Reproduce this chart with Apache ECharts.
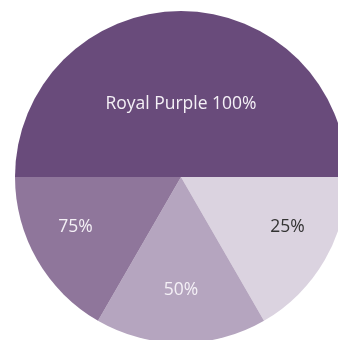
<!DOCTYPE html>
<html><head><meta charset="utf-8">
<script src="https://cdn.jsdelivr.net/npm/echarts@6/dist/echarts.min.js"></script>
<style>html,body{margin:0;padding:0;background:#fff;}#c{width:338px;height:340px;}</style>
</head><body><div id="c"></div>
<script>
var names = ['Royal Purple 100%', '25%', '50%', '75%'];
var values = [3, 1, 1, 1];
var colors = ['#694b7b', '#dbd3e0', '#b5a5bf', '#8f769b'];
var textColors = ['#f4f0f6', '#333333', '#f4f0f6', '#f4f0f6'];
var offsets = [[0, 13], [32, 7], [0, 27], [-31, 7]];

var chart = echarts.init(document.getElementById('c'), null, {renderer: 'canvas'});
chart.setOption({
  animation: false,
  series: [{
    type: 'pie',
    center: [181, 177],
    radius: [0, 166],
    startAngle: 180,
    clockwise: true,
    avoidLabelOverlap: false,
    label: {show: true, position: 'inside', formatter: '{b}', fontFamily: 'Open Sans', fontSize: 17.5},
    labelLine: {show: false},
    itemStyle: {borderWidth: 0},
    emphasis: {disabled: true},
    data: names.map(function (n, i) {
      return {
        name: n, value: values[i],
        itemStyle: {color: colors[i]},
        label: {color: textColors[i], offset: offsets[i]}
      };
    })
  }]
});
</script></body></html>
